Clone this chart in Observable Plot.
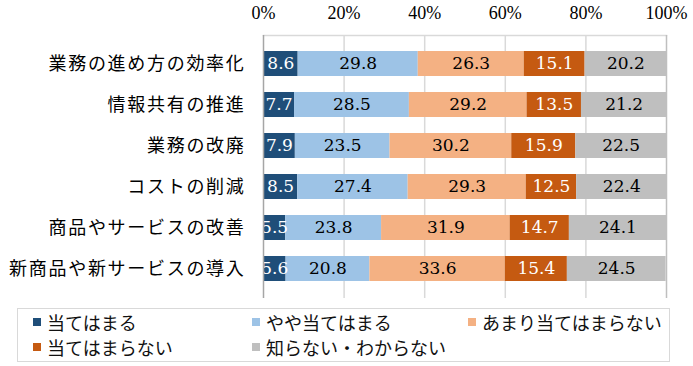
<!DOCTYPE html>
<html><head><meta charset="utf-8">
<script src="https://cdn.jsdelivr.net/npm/d3@7"></script>
<script src="https://cdn.jsdelivr.net/npm/@observablehq/plot@0.6"></script>
<style>
body{margin:0;background:#fff;font-family:"Noto Sans CJK JP","Noto Sans",sans-serif;}
#legend{box-sizing:border-box;margin:8px 0 0 17px;width:653px;height:54px;border:1.5px solid #d9d9d9;position:relative;font-size:18px;color:#111;}
.item{position:absolute;display:flex;align-items:center;white-space:nowrap;line-height:1;}
.sw{width:8px;height:8px;margin-right:6px;}
</style></head><body>
<div id="chart"></div>
<div id="legend"></div>
<script>
const categories = ["業務の進め方の効率化","情報共有の推進","業務の改廃","コストの削減","商品やサービスの改善","新商品や新サービスの導入"];
const seriesNames = ["当てはまる","やや当てはまる","あまり当てはまらない","当てはまらない","知らない・わからない"];
const seriesColors = ["#1F4E79","#9DC3E6","#F4B183","#C55A11","#BFBFBF"];
const textColors = ["#fff","#000","#000","#fff","#000"];
const v1 = [8.6,7.7,7.9,8.5,5.5,5.6];
const v2 = [29.8,28.5,23.5,27.4,23.8,20.8];
const v3 = [26.3,29.2,30.2,29.3,31.9,33.6];
const v4 = [15.1,13.5,15.9,12.5,14.7,15.4];
const v5 = [20.2,21.2,22.5,22.4,24.1,24.5];
const xTicks = [0,20,40,60,80,100];

const seriesValues = [v1,v2,v3,v4,v5];
const data = [];
categories.forEach((c,i)=>{
  seriesNames.forEach((s,j)=>{
    data.push({cat:c, series:s, value:seriesValues[j][i], tc:textColors[j]});
  });
});

const chart = Plot.plot({
  width:693, height:300,
  marginTop:35, marginBottom:2, marginLeft:263, marginRight:27,
  x:{domain:[0,100]},
  y:{domain:categories, padding:0.38},
  color:{domain:seriesNames, range:seriesColors},
  marks:[
    Plot.ruleX(xTicks.slice(1,-1), {stroke:"#d9d9d9", strokeWidth:1.5}),
    Plot.frame({anchor:"top", stroke:"#d9d9d9", strokeWidth:1.5}),
    Plot.ruleX([100], {stroke:"#bfbfbf", strokeWidth:1.5}),
    Plot.barX(data, Plot.stackX({x:"value", y:"cat", z:"series", fill:"series", inset:0})),
    Plot.text(data, Plot.stackX({x:"value", y:"cat", z:"series", text:d=>d.value.toFixed(1), fill:"tc", fontSize:17, fontFamily:"DejaVu Serif, serif"})),
    Plot.ruleX([0], {stroke:"#a6a6a6", strokeWidth:1.5}),
    Plot.axisX({anchor:"top", ticks:xTicks, tickFormat:d=>d+"%", tickSize:0, tickPadding:17, fontSize:18, fontFamily:"Liberation Serif, serif", label:null}),
    Plot.axisY({tickSize:0, tickPadding:18, fontSize:18, fontFamily:"Noto Sans CJK JP", label:null})
  ]
});
chart.querySelectorAll("g[aria-label='y-axis tick label'] text").forEach(t=>t.setAttribute("letter-spacing","1.7"));
chart.style.color="#000";
document.getElementById("chart").appendChild(chart);

const legend = document.getElementById("legend");
const pos = [[15,4],[234,4],[450,4],[15,29],[234,29]];
seriesNames.forEach((s,j)=>{
  const it = document.createElement("div");
  it.className="item";
  it.style.left=pos[j][0]+"px"; it.style.top=pos[j][1]+"px";
  const sw=document.createElement("span"); sw.className="sw"; sw.style.background=seriesColors[j];
  const tx=document.createElement("span"); tx.textContent=s;
  it.appendChild(sw); it.appendChild(tx);
  legend.appendChild(it);
});
</script>
</body></html>
